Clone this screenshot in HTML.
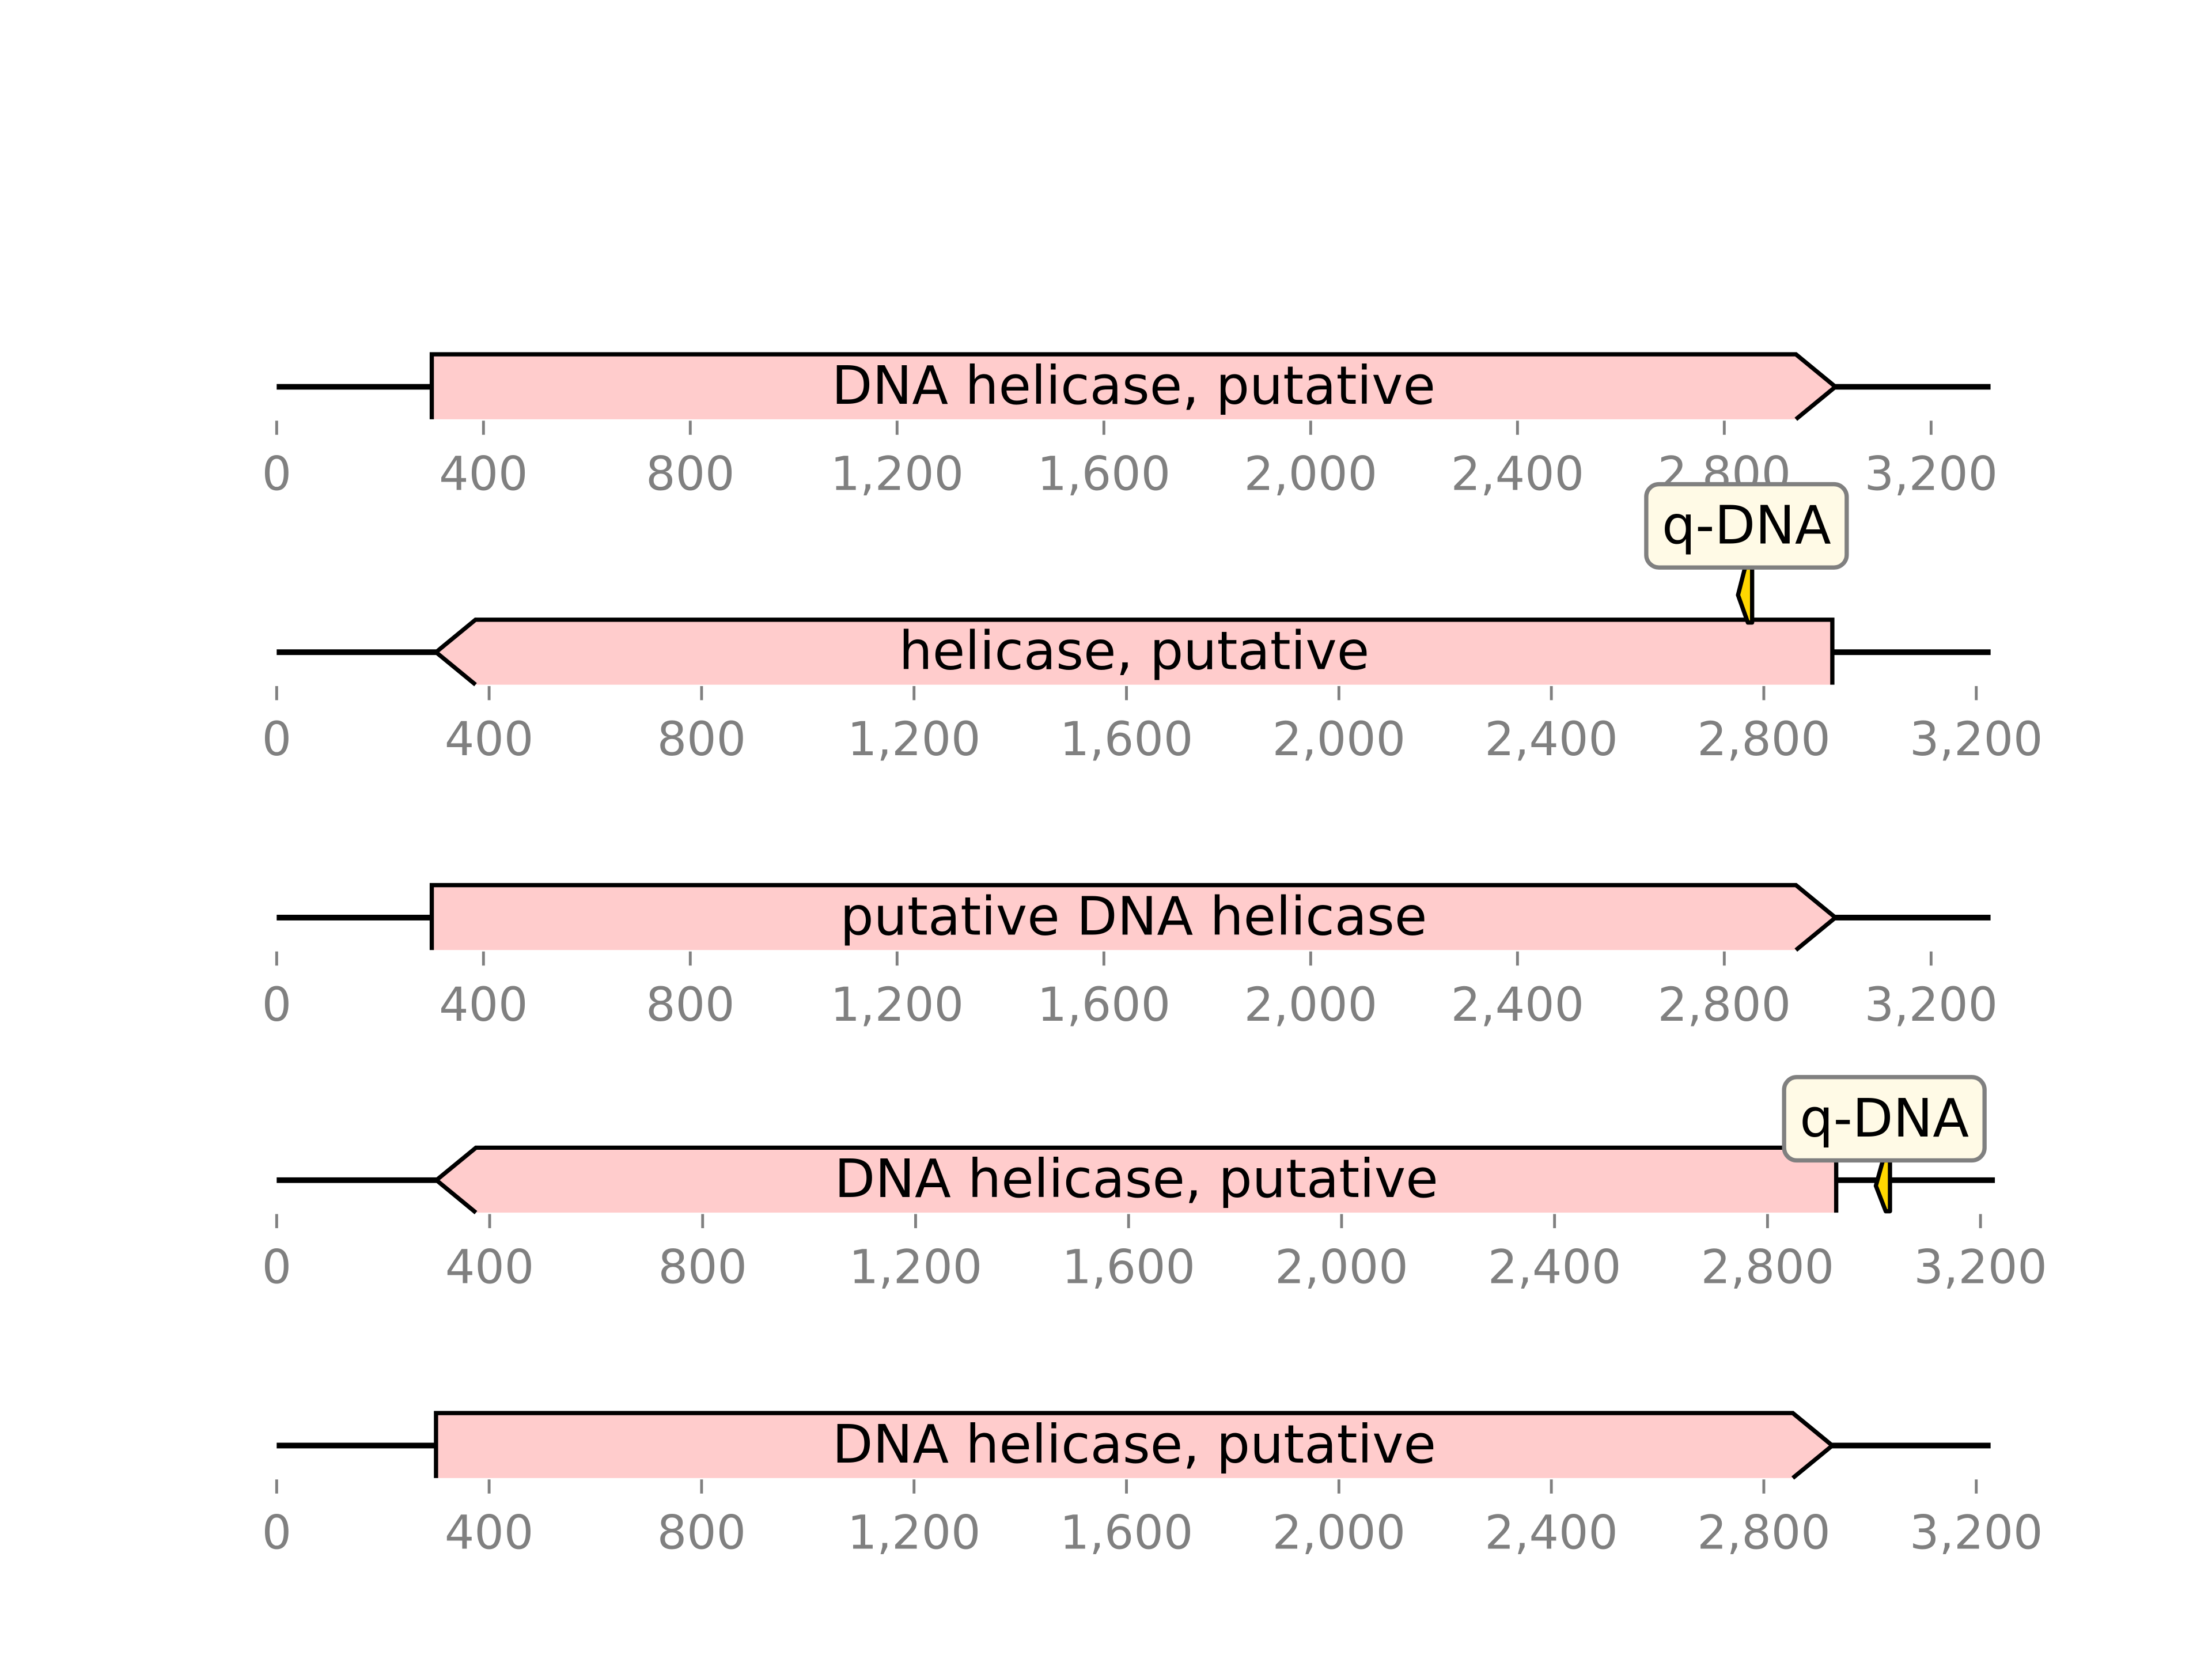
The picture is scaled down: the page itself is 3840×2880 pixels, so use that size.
<!DOCTYPE html>
<html><head><meta charset="utf-8"><style>
html,body{margin:0;padding:0;background:#fff}
svg{display:block}
</style></head><body>
<svg id="chart" width="3840" height="2880" viewBox="0 0 1567 1175.2" preserveAspectRatio="none" xmlns="http://www.w3.org/2000/svg" font-family="DejaVu Sans, Liberation Sans, sans-serif"></svg>
<script>
// data per track
const trackLabels = ["DNA helicase, putative","helicase, putative","putative DNA helicase","DNA helicase, putative","DNA helicase, putative"];
const geneStarts = [300, 300, 300, 300, 300];
const geneEnds = [3015, 2929, 3015, 2929, 2929];
const geneStrands = [1, -1, 1, -1, 1];
const seqLengths = [3315, 3227, 3315, 3227, 3227];
const axisMax = [3200, 3200, 3200, 3200, 3200];
const featurePos = [null, 2778, null, 3030, null];
const featureLabels = [null, "q-DNA", null, "q-DNA", null];
const tickValues = [0, 400, 800, 1200, 1600, 2000, 2400, 2800, 3200];
const tickLabels = ["0","400","800","1,200","1,600","2,000","2,400","2,800","3,200"];

// layout
const lineY = [274, 462, 650, 836, 1024];
const axisPx3200 = [1368, 1400, 1368, 1403, 1400];
const boxTopOffset = [0, -119, 0, -73, 0];
const markerBottomOffset = [0, -21, 0, 22, 0];
const x0 = 196, halfH = 23, arrowLen = 28;
const NS = "http://www.w3.org/2000/svg";
const svg = document.getElementById('chart');
function mk(tag, attrs, parent){const e=document.createElementNS(NS,tag);for(const k in attrs)e.setAttribute(k,attrs[k]);(parent||svg).appendChild(e);return e;}

for (let i=0;i<trackLabels.length;i++){
  const sx = v => x0 + v*(axisPx3200[i]-x0)/axisMax[i];
  const y = lineY[i];
  const g = mk('g',{});
  
  
  const ln = mk('line',{x1:sx(0),x2:sx(seqLengths[i]),y1:y,y2:y,stroke:'#000','stroke-width':4},g);
  
  
  const a=sx(geneStarts[i]), b=sx(geneEnds[i]), t=y-halfH, bt=y+halfH;
  let pts;
  if (geneStrands[i]>0) pts=[[a,bt],[a,t],[b-arrowLen,t],[b,y],[b-arrowLen,bt]];
  else pts=[[b,bt],[b,t],[a+arrowLen,t],[a,y],[a+arrowLen,bt]];
  const fill = mk('polygon',{points:pts.map(p=>p.join(',')).join(' '),fill:'#ffcccc',stroke:'none'},g);
  
  
  const outline = mk('polyline',{points:pts.map(p=>p.join(',')).join(' '),fill:'none',stroke:'#000','stroke-width':3,'stroke-linejoin':'miter'},g);
  
  
  const lbl = mk('text',{x:(a+b)/2,y:y+12,'text-anchor':'middle','font-size':37.5,fill:'#000'},g);
  lbl.textContent = trackLabels[i];
  
  
  for (let k=0;k<tickValues.length;k++){
    const tx = sx(tickValues[k]);
    const tk = mk('line',{x1:tx,x2:tx,y1:bt+1,y2:bt+11,stroke:'#808080','stroke-width':2},g);
    
    
    const tl = mk('text',{x:tx,y:bt+50,'text-anchor':'middle','font-size':33,fill:'#808080'},g);
    tl.textContent = tickLabels[k];
    
    
  }
  if (featurePos[i]!==null){
    const fx = sx(featurePos[i]);
    const bw=142, bh=59, bx=fx-bw/2-4, by=y+boxTopOffset[i];
    const mTop = by+bh, mBot = y+markerBottomOffset[i], mMid=(mTop+mBot)/2;
    const fp = mk('polygon',{points:`${fx},${mTop} ${fx},${mBot} ${fx-3},${mBot} ${fx-10},${mMid} ${fx-5},${mTop}`,fill:'#ffd700',stroke:'#000','stroke-width':3,'stroke-linejoin':'round'},g);
    
    
    const box = mk('rect',{x:bx,y:by,width:bw,height:bh,rx:9,fill:'#fffae6',stroke:'#808080','stroke-width':3},g);
    
    
    const ft = mk('text',{x:bx+bw/2,y:by+42,'text-anchor':'middle','font-size':37.5,fill:'#000'},g);
    ft.textContent = featureLabels[i];
    
    
  }
}
</script>
</body></html>
